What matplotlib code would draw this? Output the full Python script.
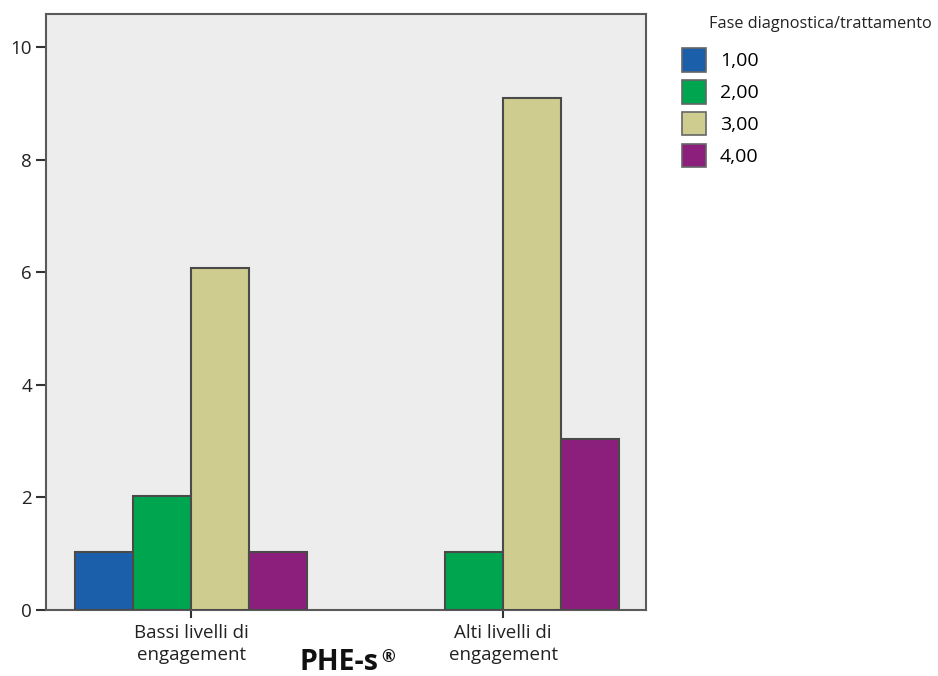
import matplotlib
matplotlib.use("Agg")
import matplotlib.pyplot as plt
import numpy as np
from matplotlib.patches import Patch

plt.rcParams['font.family'] = ['Open Sans', 'DejaVu Sans']

categories = ["Bassi livelli di\nengagement", "Alti livelli di\nengagement"]
series_labels = ["1,00", "2,00", "3,00", "4,00"]
values = {
    "1,00": [1.02, 0.0],
    "2,00": [2.03, 1.02],
    "3,00": [6.07, 9.09],
    "4,00": [1.02, 3.04],
}
colors = ["#1B5FAB", "#00A550", "#CFCC90", "#8C1F7B"]
yticks = [0, 2, 4, 6, 8, 10]

fig = plt.figure(figsize=(9.38, 6.76), dpi=100)
ax = fig.add_axes([46/938, 1 - 609.7/676, 600/938, (609.7-13.5)/676])
ax.set_facecolor("#EDEDED")

x = np.arange(len(categories))
w = 0.186
edge = "#4A4A4A"
for i, (lab, col) in enumerate(zip(series_labels, colors)):
    vals = values[lab]
    offs = (i - 1.5) * w
    for xi, v in zip(x, vals):
        if v > 0:
            ax.bar(xi + offs, v, width=w, color=col, edgecolor=edge, linewidth=1.5, zorder=3)

ax.set_xlim(-0.465, 1.458)
ax.set_ylim(0, 10.6)
ax.set_yticks(yticks)
ax.set_yticklabels([str(t) for t in yticks])
ax.set_xticks(x)
ax.set_xticklabels(categories, linespacing=1.3)
ax.tick_params(axis='both', labelsize=13.5, colors="#333333", labelcolor="#222222", width=1.5, length=7)
ax.tick_params(axis='x', length=6, pad=4)
ax.tick_params(axis='y', pad=3)
for s in ax.spines.values():
    s.set_color("#5A5A5A")
    s.set_linewidth(1.5)

# axis title "PHE-s®" (superscript registered sign)
fig.text(299/938, 1 - 670/676, "PHE-s", fontsize=20.5, fontweight='bold',
         color="#111111", ha='left', va='baseline')
fig.text(381/938, 1 - 648/676, "®", fontsize=12, fontweight='bold',
         color="#111111", ha='left', va='top')

handles = [Patch(facecolor=c, edgecolor="#666666", linewidth=1.2) for c in colors]
leg = fig.legend(handles, series_labels, loc='upper left', bbox_to_anchor=(682/938, 1 - 48/676),
                 frameon=False, fontsize=14, handlelength=1.23, handleheight=1.5,
                 labelspacing=0.42, handletextpad=0.72, borderpad=0, borderaxespad=0)
fig.text(709/938, 1 - 24/676, "Fase diagnostica/trattamento", fontsize=11.7,
         color="#222222", ha='left', va='center')

fig.savefig("out.png", dpi=100, facecolor="white")
